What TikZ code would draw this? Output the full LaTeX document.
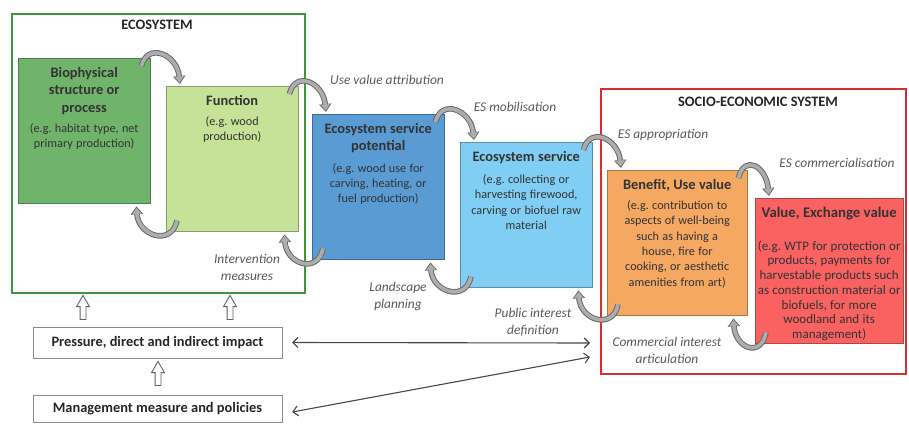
\documentclass[tikz,border=0pt]{standalone}
\usepackage{fontspec}
\setmainfont{Carlito}
\usepackage{tikz}
\usetikzlibrary{arrows.meta, positioning, calc, shapes}
\frenchspacing

\definecolor{biogreen}{RGB}{112,180,108}
\definecolor{fungreen}{RGB}{198,226,152}
\definecolor{potblue}{RGB}{90,155,212}
\definecolor{serblue}{RGB}{128,206,244}
\definecolor{benorange}{RGB}{244,168,98}
\definecolor{valred}{RGB}{250,98,98}
\definecolor{ecoframe}{RGB}{64,150,62}
\definecolor{socframe}{RGB}{212,48,48}

\newcommand{\titlesize}{\bfseries\fontsize{14.4}{17.5}\selectfont}
\newcommand{\bodysize}{\fontsize{12.2}{15.3}\selectfont}

% curved flow arrows over the top and under the bottom of two boxes
\newcommand{\flowpair}[2]{%
  \draw[flowarrow] ([shift={(-9,8)}]#1.north east) .. controls +(6,-24) and +(-3,-30) .. ([shift={(14,-2)}]#2.north west);
  \draw[flowarrow] ([shift={(11,-11)}]#2.south west) .. controls +(-5,26) and +(2,30) .. ([shift={(-14,3)}]#1.south east);
}

\begin{document}
\begin{tikzpicture}[x=1pt, y=-1pt,
    frame/.style={anchor=north west, line width=1.6pt, inner sep=0pt},
    header/.style={font=\bfseries\fontsize{14.4}{16}\selectfont, text=black!85},
    esbox/.style={draw=#1!70!black, fill=#1, minimum width=132pt, minimum height=145pt, anchor=north west, inner sep=0pt},
    boxtext/.style={anchor=north, align=center, text width=130pt, inner sep=0pt, text=black!80},
    actlabel/.style={font=\itshape\fontsize{13.4}{17}\selectfont, text=black!65, align=center},
    flowarrow/.style={line width=3.6pt, draw=black!32, shorten >=1.5pt, -{Triangle[length=6pt,width=9pt]},
        preaction={draw=black!58, line width=5.6pt, shorten >=0pt, -{Triangle[length=8pt,width=12pt]}}},
    liftarrow/.style={single arrow, draw=black!62, line width=0.9pt, shape border rotate=90, minimum height=24pt, minimum width=12pt,
        inner sep=2.5pt, single arrow head extend=3.5pt, single arrow tip angle=60},
    plainbox/.style={draw=black!45, minimum width=249pt, inner sep=0pt, font=\bfseries\fontsize{14.4}{16}\selectfont, text=black!85},
    linkarrow/.style={{Straight Barb[length=5pt,width=10pt]}-{Straight Barb[length=5pt,width=10pt]}, line width=1.1pt, draw=black!72}]
    \useasboundingbox (0,0) rectangle (909,423);

    % Systems
    \node[frame, draw=ecoframe, minimum width=293pt, minimum height=279pt] (eco) at (11,13) {};
    \node[frame, draw=socframe, minimum width=305pt, minimum height=285pt] (socio) at (600,88) {};
    \node[header] (eco-title) at (157,25) {ECOSYSTEM};
    \node[header] (socio-title) at (758,102) {SOCIO-ECONOMIC SYSTEM};

    % Cascade boxes
    \node[esbox=biogreen] (bio) at (18,58) {};
    \node[esbox=fungreen] (fun) at (166,86) {};
    \node[esbox=potblue] (pot) at (312,114) {};
    \node[esbox=serblue] (ser) at (460,142) {};
    \node[esbox=benorange, minimum width=140pt] (ben) at (607,170) {};
    \node[esbox=valred, minimum width=148pt] (val) at (755,198) {};

    \node[boxtext] (bio-t) at ([yshift=-9pt]bio.north) {{\titlesize Biophysical\\structure or\\process\par}\vspace{5pt}{\bodysize (e.g. habitat type, net\\primary production)\par}};
    \node[boxtext] (fun-t) at ([yshift=-9pt]fun.north) {{\titlesize Function\par}\vspace{5pt}{\bodysize (e.g. wood\\production)\par}};
    \node[boxtext] (pot-t) at ([yshift=-9pt]pot.north) {{\titlesize Ecosystem service\\potential\par}\vspace{6pt}{\bodysize (e.g. wood use for\\carving, heating, or\\fuel production)\par}};
    \node[boxtext] (ser-t) at ([yshift=-9pt]ser.north) {{\titlesize Ecosystem service\par}\vspace{7pt}{\bodysize (e.g. collecting or\\harvesting firewood,\\carving or biofuel raw\\material\par}};
    \node[boxtext, text width=138pt] (ben-t) at ([yshift=-9pt]ben.north) {{\titlesize Benefit, Use value\par}\vspace{5pt}{\bodysize (e.g. contribution to\\aspects of well-being\\such as having a\\house, fire for\\cooking, or aesthetic\\amenities from art)\par}};
    \node[boxtext, text width=150pt] (val-t) at ([yshift=-9pt]val.north) {{\bfseries\fontsize{14.8}{17.5}\selectfont Value, Exchange value\par}\vspace{18pt}{\fontsize{13}{14.7}\selectfont (e.g. WTP for protection or\\products, payments for\\harvestable products such\\as construction material or\\biofuels, for more\\woodland and its\\management)\par}};

    % Flows
    \flowpair{bio}{fun}
    \flowpair{fun}{pot}
    \flowpair{pot}{ser}
    \flowpair{ser}{ben}
    \flowpair{ben}{val}

    \node[actlabel] (use-lbl) at (387,80) {Use value attribution};
    \node[actlabel] (mob-lbl) at (515,107) {ES mobilisation};
    \node[actlabel] (app-lbl) at (663,135) {ES appropriation};
    \node[actlabel] (com-lbl) at (837,163) {ES commercialisation};
    \node[actlabel] (int-lbl) at (247,267) {Intervention\\measures};
    \node[actlabel] (land-lbl) at (398,296) {Landscape\\planning};
    \node[actlabel] (pub-lbl) at (533,322) {Public interest\\definition};
    \node[actlabel] (art-lbl) at (667,350) {Commercial interest\\articulation};

    % Drivers
    \node[plainbox, minimum height=31pt] (press) at (157.5,342.5) {Pressure, direct and indirect impact};
    \node[plainbox, minimum height=27pt] (manage) at (157.5,409) {Management measure and policies};
    \node[liftarrow] (lift-a) at (83,310) {};
    \node[liftarrow] (lift-b) at (230,310) {};
    \node[liftarrow] (lift-c) at (158,376) {};

    \coordinate (pub-in) at (590,343);
    \coordinate (com-in) at (590,357);
    \draw[linkarrow] ([xshift=10pt]press.east) -- (pub-in);
    \draw[linkarrow] ([shift={(10,3)}]manage.east) -- (com-in);
\end{tikzpicture}
\end{document}
